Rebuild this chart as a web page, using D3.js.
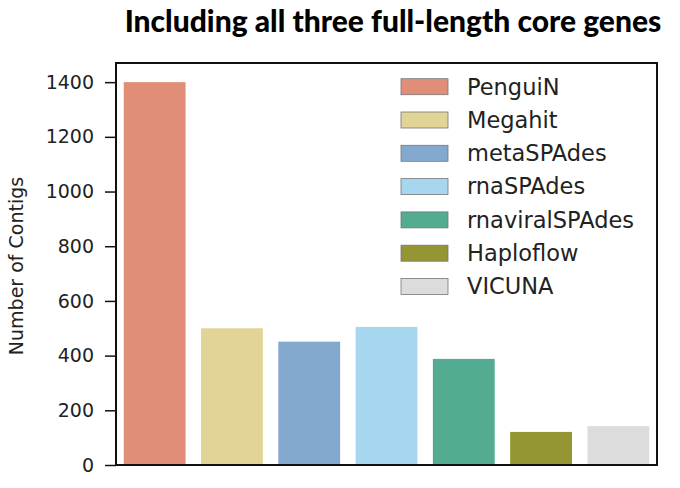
<!DOCTYPE html>
<html>
<head>
<meta charset="utf-8">
<script src="https://d3js.org/d3.v7.min.js"></script>
<style>
  body { margin: 0; background: #fff; }
</style>
</head>
<body>
<script>
// data
var assemblers = ["PenguiN", "Megahit", "metaSPAdes", "rnaSPAdes", "rnaviralSPAdes", "Haploflow", "VICUNA"];
var contigs = [1400, 500, 451, 505, 388, 121, 142];
var colors = ["#e08e78", "#e2d496", "#83a9cf", "#a6d7ef", "#53ab92", "#939632", "#dcdcdc"];
var yTicks = [0, 200, 400, 600, 800, 1000, 1200, 1400];

var w = 680, h = 488;
var margin = {left: 116, right: 23, top: 63, bottom: 23};

var svg = d3.select("body").append("svg")
    .attr("width", w)
    .attr("height", h);

var x = d3.scaleBand()
    .domain(assemblers)
    .range([margin.left, w - margin.right])
    .paddingInner(0.2)
    .paddingOuter(0.1);

var y = d3.scaleLinear()
    .domain([0, 1470])
    .range([h - margin.bottom, margin.top]);

// title
svg.append("text")
    .attr("x", 393)
    .attr("y", 32)
    .attr("text-anchor", "middle")
    .style("font-family", "Lato, 'Open Sans', sans-serif")
    .style("font-weight", "900")
    .style("font-size", "30px")
    .text("Including all three full-length core genes");

// bars
svg.selectAll("rect.bar")
    .data(contigs)
    .enter()
    .append("rect")
    .attr("class", "bar")
    .attr("x", function(d, i) { return x(assemblers[i]); })
    .attr("width", x.bandwidth())
    .attr("y", function(d) { return y(d); })
    .attr("height", function(d) { return y(0) - y(d); })
    .attr("fill", function(d, i) { return colors[i]; });

// y axis
var yAxis = svg.append("g")
    .attr("transform", "translate(" + margin.left + ",0)")
    .call(d3.axisLeft(y).tickValues(yTicks).tickFormat(d3.format("d")).tickSize(11).tickPadding(11));
yAxis.select(".domain").remove();
yAxis.selectAll("line").attr("stroke", "#111").attr("stroke-width", 1.5);
yAxis.selectAll("text")
    .style("font-family", "'DejaVu Sans', sans-serif")
    .style("font-size", "19px")
    .attr("fill", "#222");

// frame
svg.append("rect")
    .attr("x", margin.left)
    .attr("y", margin.top)
    .attr("width", w - margin.left - margin.right)
    .attr("height", h - margin.top - margin.bottom)
    .attr("fill", "none")
    .attr("stroke", "#111")
    .attr("stroke-width", 2);

// y label
svg.append("text")
    .attr("transform", "translate(23," + 266 + ") rotate(-90)")
    .attr("text-anchor", "middle")
    .style("font-family", "'DejaVu Sans', sans-serif")
    .style("font-size", "19px")
    .attr("fill", "#222")
    .text("Number of Contigs");

// legend
var legend = svg.selectAll("g.leg")
    .data(assemblers)
    .enter()
    .append("g")
    .attr("class", "leg")
    .attr("transform", function(d, i) { return "translate(401," + (86.7 + i * 33.3) + ")"; });

legend.append("rect")
    .attr("x", 0)
    .attr("y", -8)
    .attr("width", 47)
    .attr("height", 16)
    .attr("fill", function(d, i) { return colors[i]; })
    .attr("stroke", "#777")
    .attr("stroke-width", 0.8);

legend.append("text")
    .attr("x", 66)
    .attr("y", 0)
    .attr("dy", "0.35em")
    .style("font-family", "'DejaVu Sans', sans-serif")
    .style("font-size", "22.5px")
    .attr("fill", "#222")
    .text(function(d) { return d; });
</script>
</body>
</html>
